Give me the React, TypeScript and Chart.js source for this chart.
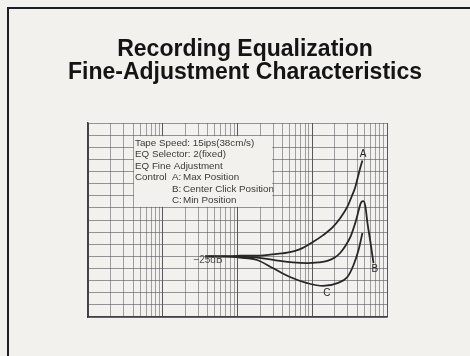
import React, { useEffect, useRef } from "react";
import { Chart, registerables } from "chart.js";

Chart.register(...registerables);

// ---- Text ----
const TITLE_LINES = ["Recording Equalization", "Fine-Adjustment Characteristics"];
const NOTE_LINES = [
  "Tape Speed: 15ips(38cm/s)",
  "EQ Selector: 2(fixed)",
  "EQ Fine Adjustment",
  "Control",
];
const CONTROL_KEYS = ["A:", "B:", "C:"];
const CONTROL_TEXT = ["Max Position", "Center Click Position", "Min Position"];
const LEVEL_LABEL = "−25dB";

// ---- Axis grid ----
const X_MIN = 10;
const X_MAX = 100000;
const DECADES = [10, 100, 1000, 10000];
const DIGITS = [1, 2, 3, 4, 5, 6, 7, 8, 9];
const Y_MIN = -5;
const Y_MAX = 11;

// ---- Series (frequency in Hz, response in dB relative to reference) ----
const FREQ_A = [370, 680, 1080, 1830, 2730, 4620, 6900, 10300, 14000, 19100, 24000, 29500, 33500, 37800, 41000, 44100, 46900];
const DB_A = [0, 0, 0.05, 0.05, 0.15, 0.3, 0.6, 1.2, 1.75, 2.45, 3.2, 4.1, 4.9, 5.75, 6.6, 7.35, 7.9];

const FREQ_B = [370, 680, 1080, 1830, 2730, 3720, 5500, 8540, 12000, 15900, 20000, 23600, 28000, 32400, 36500, 40200, 43000, 45500, 48400, 51400, 54800, 60300, 65900];
const DB_B = [0, 0, -0.03, -0.1, -0.25, -0.38, -0.5, -0.55, -0.5, -0.38, -0.1, 0.28, 0.9, 1.6, 2.5, 3.4, 4.1, 4.5, 4.55, 4.1, 2.75, 1.1, -0.55];

const FREQ_C = [370, 680, 1080, 1830, 2960, 5040, 8540, 13900, 21700, 29500, 35700, 41600, 46900];
const DB_C = [0, 0, -0.1, -0.3, -0.96, -1.7, -2.2, -2.44, -2.2, -1.7, -0.71, 0.52, 1.93];

const SERIES_NAMES = ["A", "B", "C"];

// ---- Annotation anchors (data space) ----
const LABEL_FREQ = [47700, 69000, 15700];
const LABEL_DB = [8.4, -1.1, -3.0];
const LEVEL_FREQ = 265;
const LEVEL_DB = -0.35;
const NOTE_BOX = { f0: 40, f1: 3000, d0: 10, d1: 4 };

const BG = "#f2f1ed";
const INK = "#262626";
const FONT = "'Liberation Sans', Arial, Helvetica, sans-serif";

function pts(fs: number[], ds: number[]) {
  return fs.map((f, i) => ({ x: f, y: ds[i] }));
}

export default function App() {
  const ref = useRef<HTMLCanvasElement | null>(null);

  useEffect(() => {
    if (!ref.current) return;
    const gridTicks: number[] = [];
    DECADES.forEach((d) => DIGITS.forEach((k) => gridTicks.push(d * k)));
    gridTicks.push(X_MAX);

    const overlay = {
      id: "overlay",
      beforeDatasetsDraw(chart: any) {
        const { ctx, scales } = chart;
        const x = scales.x;
        const y = scales.y;
        const l = x.getPixelForValue(NOTE_BOX.f0) + 1;
        const r = x.getPixelForValue(NOTE_BOX.f1) - 1;
        const t = y.getPixelForValue(NOTE_BOX.d0) + 1;
        const b = y.getPixelForValue(NOTE_BOX.d1) - 1;
        ctx.save();
        ctx.fillStyle = BG;
        ctx.fillRect(l, t, r - l, b - t);
        ctx.restore();
      },
      afterDraw(chart: any) {
        const { ctx, scales } = chart;
        const x = scales.x;
        const y = scales.y;
        ctx.save();
        // title
        ctx.fillStyle = "#141414";
        ctx.font = `bold 23px ${FONT}`;
        ctx.textAlign = "center";
        ctx.textBaseline = "middle";
        TITLE_LINES.forEach((s, i) => ctx.fillText(s, 245, 50 + i * 23));

        // notes
        ctx.fillStyle = "#3a3a3a";
        ctx.font = `9.8px ${FONT}`;
        ctx.textAlign = "left";
        const nx = x.getPixelForValue(NOTE_BOX.f0) + 2;
        const ny = y.getPixelForValue(NOTE_BOX.d0) + 8;
        NOTE_LINES.forEach((s, i) => ctx.fillText(s, nx, ny + i * 11.5));
        CONTROL_KEYS.forEach((k, i) => {
          const yy = ny + (3 + i) * 11.5;
          ctx.fillText(k, nx + 37, yy);
          ctx.fillText(CONTROL_TEXT[i], nx + 48, yy);
        });

        // curve labels
        ctx.fillStyle = INK;
        ctx.font = `10px ${FONT}`;
        ctx.textAlign = "center";
        SERIES_NAMES.forEach((n, i) => {
          ctx.fillText(n, x.getPixelForValue(LABEL_FREQ[i]), y.getPixelForValue(LABEL_DB[i]));
        });

        // level label
        ctx.fillStyle = "#505050";
        ctx.font = `10px ${FONT}`;
        ctx.textAlign = "left";
        ctx.fillText(LEVEL_LABEL, x.getPixelForValue(LEVEL_FREQ) - 1, y.getPixelForValue(LEVEL_DB));
        ctx.restore();
      },
    };

    const chart = new Chart(ref.current, {
      type: "line",
      data: {
        datasets: [
          { label: SERIES_NAMES[0], data: pts(FREQ_A, DB_A) },
          { label: SERIES_NAMES[1], data: pts(FREQ_B, DB_B) },
          { label: SERIES_NAMES[2], data: pts(FREQ_C, DB_C) },
        ].map((d) => ({
          ...d,
          borderColor: INK,
          borderWidth: 1.8,
          pointRadius: 0,
          fill: false,
          cubicInterpolationMode: "monotone" as const,
        })),
      },
      options: {
        responsive: false,
        animation: false,
        events: [],
        layout: { padding: { left: 88, right: 83, top: 123, bottom: 39 } },
        plugins: { legend: { display: false }, title: { display: false }, tooltip: { enabled: false } },
        scales: {
          x: {
            type: "logarithmic",
            min: X_MIN,
            max: X_MAX,
            afterBuildTicks: (s: any) => {
              s.ticks = gridTicks.map((v) => ({ value: v }));
            },
            afterFit: (s: any) => {
              s.height = 0;
            },
            ticks: { display: false },
            grid: {
              drawTicks: false,
              color: (c: any) => {
                const v = c.tick ? c.tick.value : 0;
                const lg = Math.log10(v);
                return Math.abs(lg - Math.round(lg)) < 1e-6 ? "rgba(60,60,68,0.85)" : "rgba(90,90,98,0.55)";
              },
              lineWidth: 1,
            },
            border: { display: true, color: "rgba(45,45,52,0.9)", width: 1.5 },
          },
          y: {
            type: "linear",
            min: Y_MIN,
            max: Y_MAX,
            afterFit: (s: any) => {
              s.width = 0;
            },
            ticks: { display: false, stepSize: 1 },
            grid: { drawTicks: false, color: "rgba(84,84,94,0.6)", lineWidth: 1 },
            border: { display: true, color: "rgba(45,45,52,0.9)", width: 1.5 },
          },
        },
      },
      plugins: [overlay],
    } as any);
    return () => chart.destroy();
  }, []);

  return (
    <div
      style={{
        position: "absolute",
        left: 0,
        top: 0,
        width: 470,
        height: 356,
        background: BG,
        overflow: "hidden",
      }}
    >
      <div
        style={{
          position: "absolute",
          left: 7,
          top: 7,
          width: 470,
          height: 356,
          borderLeft: "2px solid #1e1e28",
          borderTop: "2px solid #1e1e28",
        }}
      />
      <canvas ref={ref} width={470} height={356} style={{ position: "absolute", left: 0, top: 0 }} />
    </div>
  );
}
